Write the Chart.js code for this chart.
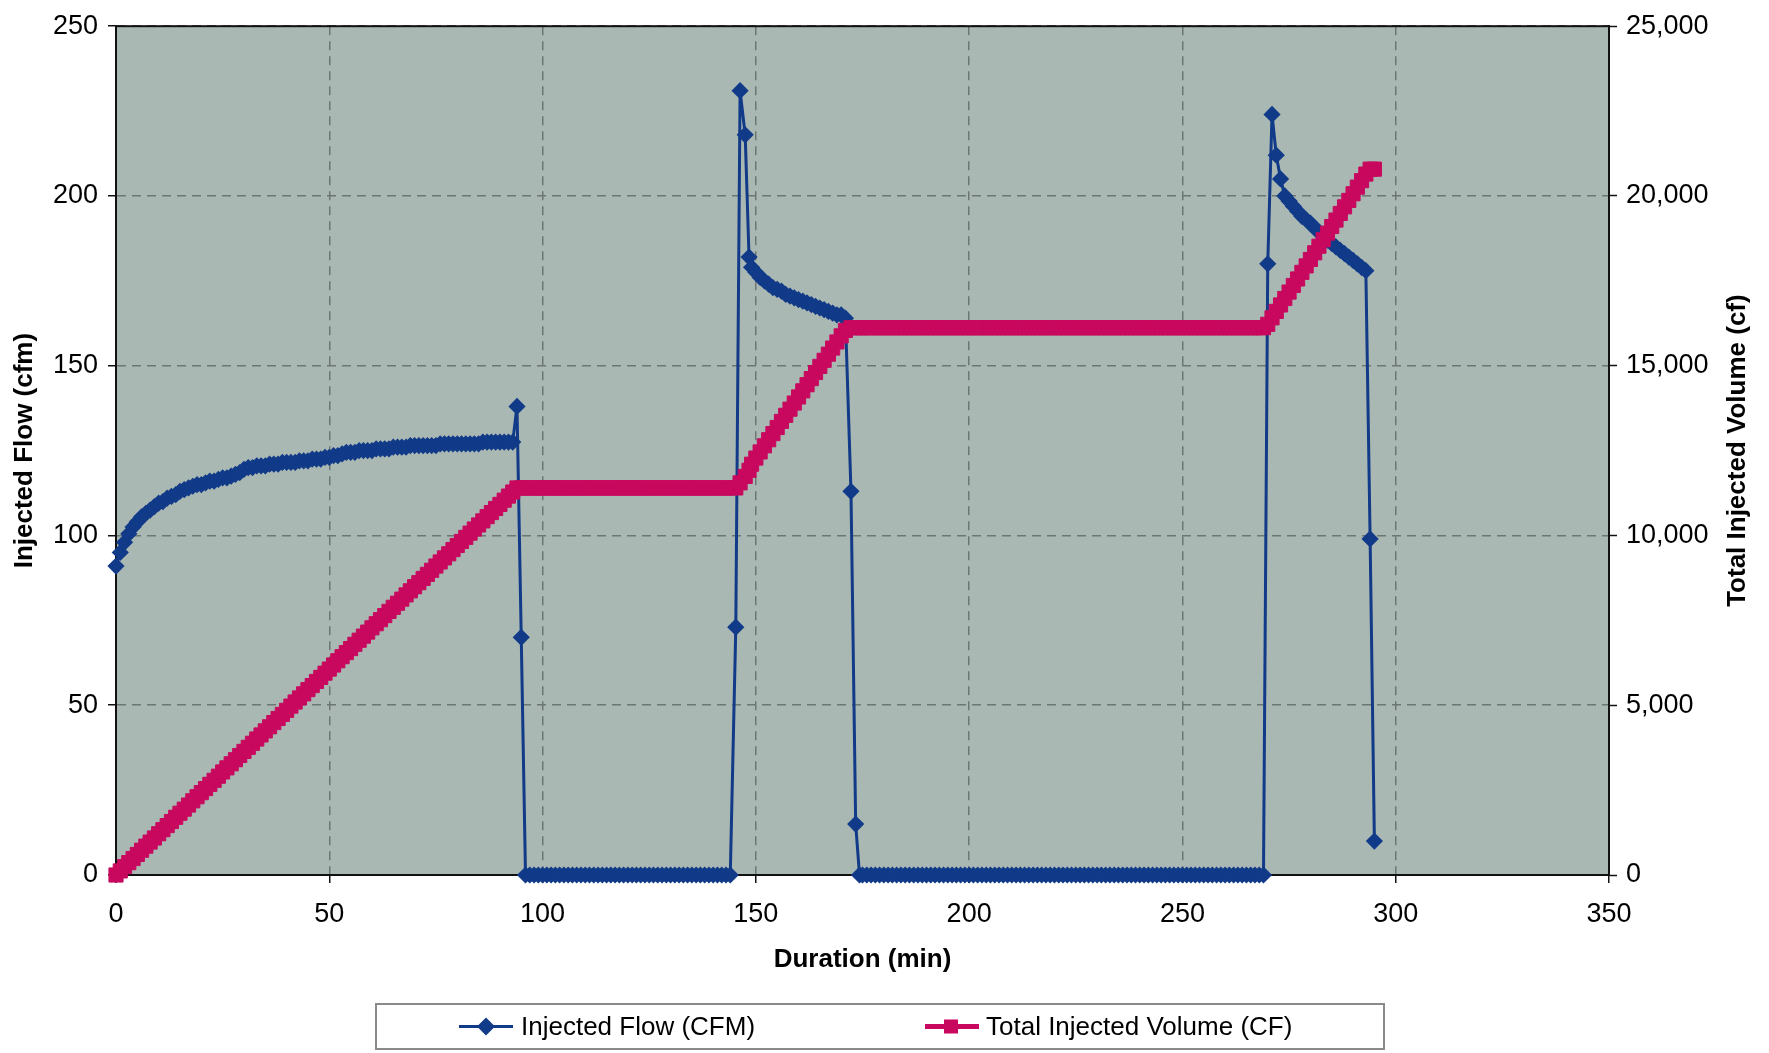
<!DOCTYPE html>
<html>
<head>
<meta charset="utf-8">
<script src="https://cdn.jsdelivr.net/npm/chart.js@4/dist/chart.umd.min.js"></script>
<style>
html,body{margin:0;padding:0;background:#fff;}
canvas{display:block;}
</style>
</head>
<body>
<canvas id="c" width="1769" height="1053"></canvas>
<script>
// Duration (min)
const durationMin = [
0,1,2,3,4,5,6,7,8,9,
10,11,12,13,14,15,16,17,18,19,
20,21,22,23,24,25,26,27,28,29,
30,31,32,33,34,35,36,37,38,39,
40,41,42,43,44,45,46,47,48,49,
50,51,52,53,54,55,56,57,58,59,
60,61,62,63,64,65,66,67,68,69,
70,71,72,73,74,75,76,77,78,79,
80,81,82,83,84,85,86,87,88,89,
90,91,92,93,94,95,96,97,98,99,
100,101,102,103,104,105,106,107,108,109,
110,111,112,113,114,115,116,117,118,119,
120,121,122,123,124,125,126,127,128,129,
130,131,132,133,134,135,136,137,138,139,
140,141,142,143,144,145.3,146.3,147.5,148.4,149,
150,151,152,153,154,155,156,157,158,159,
160,161,162,163,164,165,166,167,168,169,
170,171,172.3,173.4,174.3,175,176,177,178,179,
180,181,182,183,184,185,186,187,188,189,
190,191,192,193,194,195,196,197,198,199,
200,201,202,203,204,205,206,207,208,209,
210,211,212,213,214,215,216,217,218,219,
220,221,222,223,224,225,226,227,228,229,
230,231,232,233,234,235,236,237,238,239,
240,241,242,243,244,245,246,247,248,249,
250,251,252,253,254,255,256,257,258,259,
260,261,262,263,264,265,266,267,268,269,
270,271,272,273,274,275,276,277,278,279,
280,281,282,283,284,285,286,287,288,289,
290,291,292,293,294,295
];

// Injected Flow (CFM)
const injectedFlowCfm = [
91,95,98,100.5,102.5,104,105.5,106.5,107.5,108.5,
109.5,110,111,111.5,112,113,113.5,114,114.5,115,
115,115.5,116,116,116.5,117,117,117.5,118,118.5,
119.5,120,120,120.5,120.5,120.5,121,121,121,121.5,
121.5,121.5,121.5,122,122,122,122.5,122.5,122.5,123,
123,123.5,123.5,124,124.5,124.5,124.5,125,125,125,
125,125.5,125.5,125.5,125.5,126,126,126,126,126.5,
126.5,126.5,126.5,126.5,126.5,126.5,127,127,127,127,
127,127,127,127,127,127,127.5,127.5,127.5,127.5,
127.5,127.5,127.5,127.5,138,70,0,0,0,0,
0,0,0,0,0,0,0,0,0,0,
0,0,0,0,0,0,0,0,0,0,
0,0,0,0,0,0,0,0,0,0,
0,0,0,0,0,0,0,0,0,0,
0,0,0,0,0,73,231,218,182,179,
177.5,176,175,174,173,172.5,172,171,170.5,170,
169.5,169,168.5,168,167.5,167,166.5,166,165.5,165,
165,164,113,15,0,0,0,0,0,0,
0,0,0,0,0,0,0,0,0,0,
0,0,0,0,0,0,0,0,0,0,
0,0,0,0,0,0,0,0,0,0,
0,0,0,0,0,0,0,0,0,0,
0,0,0,0,0,0,0,0,0,0,
0,0,0,0,0,0,0,0,0,0,
0,0,0,0,0,0,0,0,0,0,
0,0,0,0,0,0,0,0,0,0,
0,0,0,0,0,0,0,0,0,0,
180,224,212,205,200,198.5,197,195.5,194,193,
192,190.5,189.5,188,187,186,185,184,183,182,
181,180,179,178,99,10
];

// Total Injected Volume (CF)
const totalVolumeCf = [
0,120,245,365,485,605,730,850,970,1090,
1215,1335,1455,1575,1700,1820,1940,2060,2185,2305,
2425,2545,2670,2790,2910,3035,3155,3275,3395,3520,
3640,3760,3880,4005,4125,4245,4365,4490,4610,4730,
4850,4975,5095,5215,5335,5460,5580,5700,5820,5945,
6065,6185,6310,6430,6550,6670,6795,6915,7035,7155,
7280,7400,7520,7640,7765,7885,8005,8125,8250,8370,
8490,8610,8735,8855,8975,9100,9220,9340,9460,9585,
9705,9825,9945,10070,10190,10310,10430,10555,10675,10795,
10915,11040,11160,11280,11400,11400,11400,11400,11400,11400,
11400,11400,11400,11400,11400,11400,11400,11400,11400,11400,
11400,11400,11400,11400,11400,11400,11400,11400,11400,11400,
11400,11400,11400,11400,11400,11400,11400,11400,11400,11400,
11400,11400,11400,11400,11400,11400,11400,11400,11400,11400,
11400,11400,11400,11400,11400,11400,11550,11740,11920,12100,
12280,12460,12640,12820,13000,13180,13360,13540,13720,13900,
14080,14260,14440,14620,14800,14980,15160,15340,15520,15700,
15880,16040,16120,16120,16120,16120,16120,16120,16120,16120,
16120,16120,16120,16120,16120,16120,16120,16120,16120,16120,
16120,16120,16120,16120,16120,16120,16120,16120,16120,16120,
16120,16120,16120,16120,16120,16120,16120,16120,16120,16120,
16120,16120,16120,16120,16120,16120,16120,16120,16120,16120,
16120,16120,16120,16120,16120,16120,16120,16120,16120,16120,
16120,16120,16120,16120,16120,16120,16120,16120,16120,16120,
16120,16120,16120,16120,16120,16120,16120,16120,16120,16120,
16120,16120,16120,16120,16120,16120,16120,16120,16120,16120,
16120,16120,16120,16120,16120,16120,16120,16120,16120,16120,
16220,16410,16600,16790,16980,17170,17365,17555,17750,17940,
18130,18325,18520,18710,18905,19100,19290,19485,19680,19870,
20065,20260,20450,20645,20790,20790
];

const xTicks = [0, 50, 100, 150, 200, 250, 300, 350];
const flowTicks = [0, 50, 100, 150, 200, 250];
const volumeTicks = [0, 5000, 10000, 15000, 20000, 25000];

const seriesNames = ['Injected Flow (CFM)', 'Total Injected Volume (CF)'];
const axisTitles = { x: 'Duration (min)', y: 'Injected Flow (cfm)', y1: 'Total Injected Volume (cf)' };

const FONT = "'Liberation Sans', Arial, Helvetica, sans-serif";
const BLUE = '#113a88';
const PINK = '#c8085e';
const PLOT_BG = '#aab8b3';
const GRID = '#6c7672';

const flowPoints = durationMin.map((t, i) => ({ x: t, y: injectedFlowCfm[i] }));
const volumePoints = durationMin.map((t, i) => ({ x: t, y: totalVolumeCf[i] }));

const plotDecor = {
  id: 'plotDecor',
  beforeDraw(chart) {
    const { ctx, chartArea: a } = chart;
    ctx.save();
    ctx.fillStyle = PLOT_BG;
    ctx.fillRect(a.left, a.top, a.right - a.left, a.bottom - a.top);
    ctx.restore();
  },
  beforeDatasetsDraw(chart) {
    const { ctx, chartArea: a } = chart;
    ctx.save();
    ctx.strokeStyle = '#111';
    ctx.lineWidth = 2;
    ctx.strokeRect(a.left, a.top, a.right - a.left, a.bottom - a.top);
    ctx.restore();
  },
  afterDraw(chart) {
    const { ctx, chartArea: a } = chart;
    // right axis title (reads bottom-to-top)
    ctx.save();
    ctx.fillStyle = '#000';
    ctx.font = 'bold 26px ' + FONT;
    ctx.textAlign = 'center';
    ctx.textBaseline = 'middle';
    ctx.translate(1738, (a.top + a.bottom) / 2);
    ctx.rotate(-Math.PI / 2);
    ctx.fillText(axisTitles.y1, 0, 0);
    ctx.restore();

    // legend box
    const bx = 376, by = 1004, bw = 1008, bh = 45;
    ctx.save();
    ctx.fillStyle = '#fff';
    ctx.fillRect(bx, by, bw, bh);
    ctx.strokeStyle = '#8a8a8a';
    ctx.lineWidth = 2;
    ctx.strokeRect(bx, by, bw, bh);
    const cy = by + bh / 2;
    ctx.font = '26px ' + FONT;
    ctx.textBaseline = 'middle';
    ctx.textAlign = 'left';
    // item 1
    ctx.strokeStyle = BLUE; ctx.lineWidth = 3;
    ctx.beginPath(); ctx.moveTo(459, cy); ctx.lineTo(513, cy); ctx.stroke();
    ctx.fillStyle = BLUE;
    ctx.beginPath(); ctx.moveTo(486, cy - 9); ctx.lineTo(495, cy); ctx.lineTo(486, cy + 9); ctx.lineTo(477, cy); ctx.closePath(); ctx.fill();
    ctx.fillStyle = '#000';
    ctx.fillText(seriesNames[0], 521, cy + 1);
    // item 2
    ctx.strokeStyle = PINK; ctx.lineWidth = 5;
    ctx.beginPath(); ctx.moveTo(925, cy); ctx.lineTo(979, cy); ctx.stroke();
    ctx.fillStyle = PINK;
    ctx.fillRect(944, cy - 7, 14, 14);
    ctx.fillStyle = '#000';
    ctx.fillText(seriesNames[1], 986, cy + 1);
    ctx.restore();
  }
};

const tickFont = { family: FONT, size: 27 };
const titleFont = { family: FONT, size: 26, weight: 'bold' };

new Chart(document.getElementById('c'), {
  type: 'line',
  data: {
    datasets: [
      {
        label: seriesNames[0],
        data: flowPoints,
        yAxisID: 'y',
        borderColor: BLUE,
        backgroundColor: BLUE,
        borderWidth: 3,
        pointStyle: 'rectRot',
        pointRadius: 6.5,
        pointBorderWidth: 3,
        pointBorderColor: BLUE,
        pointBackgroundColor: BLUE,
        tension: 0,
        clip: false,
        order: 1
      },
      {
        label: seriesNames[1],
        data: volumePoints,
        yAxisID: 'y1',
        borderColor: PINK,
        backgroundColor: PINK,
        borderWidth: 5,
        pointStyle: 'rect',
        pointRadius: 10,
        pointBorderWidth: 1,
        pointBorderColor: PINK,
        pointBackgroundColor: PINK,
        tension: 0,
        clip: false,
        order: 0
      }
    ]
  },
  options: {
    responsive: false,
    animation: false,
    devicePixelRatio: 1,
    layout: { padding: { top: 20, left: 0, right: 0, bottom: 0 } },
    plugins: { legend: { display: false }, tooltip: { enabled: false } },
    scales: {
      x: {
        type: 'linear',
        min: 0, max: 350,
        afterBuildTicks(s) { s.ticks = xTicks.map(v => ({ value: v })); },
        afterFit(s) { s.height = 178; },
        ticks: { font: tickFont, color: '#000', padding: 15, maxRotation: 0 },
        grid: { color: GRID, lineWidth: 1.5, tickLength: 8, tickColor: '#111', tickWidth: 1.5 },
        border: { display: true, color: '#111', width: 2, dash: [9, 6] },
        title: { display: true, text: axisTitles.x, font: titleFont, color: '#000', padding: { top: 0, bottom: 78 } }
      },
      y: {
        type: 'linear',
        position: 'left',
        min: 0, max: 250,
        afterBuildTicks(s) { s.ticks = flowTicks.map(v => ({ value: v })); },
        afterFit(s) { s.width = 116; },
        ticks: { font: tickFont, color: '#000', padding: 10 },
        grid: { color: GRID, lineWidth: 1.5, tickLength: 8, tickColor: '#111', tickWidth: 1.5 },
        border: { display: true, color: '#111', width: 2, dash: [9, 6] },
        title: { display: true, text: axisTitles.y, font: titleFont, color: '#000', padding: { top: 9, bottom: 0 } }
      },
      y1: {
        type: 'linear',
        position: 'right',
        min: 0, max: 25000,
        afterBuildTicks(s) { s.ticks = volumeTicks.map(v => ({ value: v })); },
        afterFit(s) { s.width = 160; },
        ticks: { font: tickFont, color: '#000', padding: 9, callback: v => Number(v).toLocaleString('en-US') },
        grid: { drawOnChartArea: false, tickLength: 8, tickColor: '#111', tickWidth: 1.5 },
        border: { display: true, color: '#111', width: 2 },
        title: { display: false }
      }
    }
  },
  plugins: [plotDecor]
});
</script>
</body>
</html>
